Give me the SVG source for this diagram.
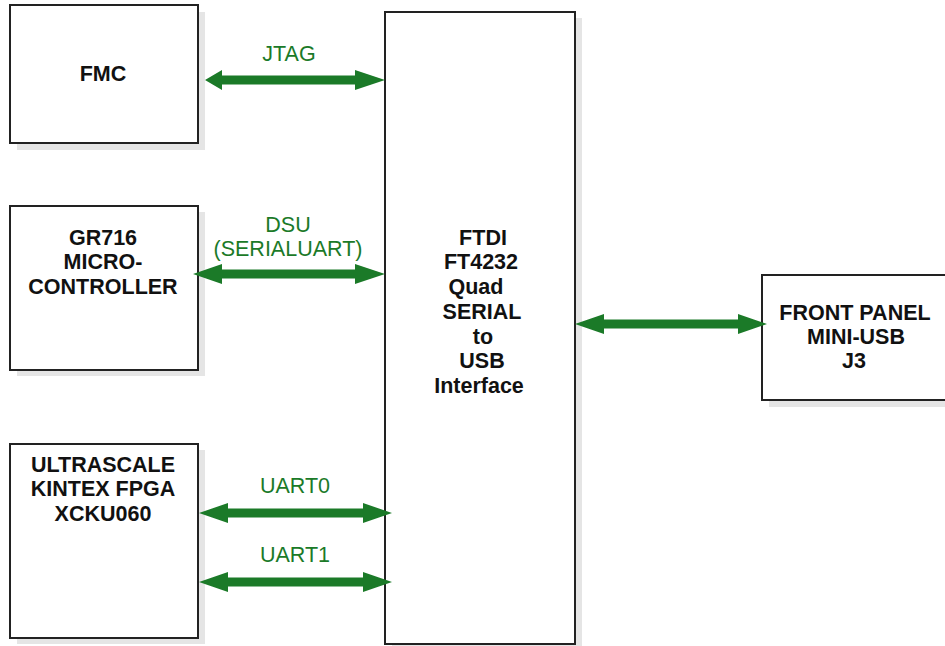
<svg xmlns="http://www.w3.org/2000/svg" width="945" height="646" viewBox="0 0 945 646">
<style>
.shadow{fill:#e5e5e5;stroke:none}
.box{fill:#ffffff;stroke:#222222;stroke-width:2}
.lbl{font-family:"Liberation Sans",Arial,sans-serif;font-weight:bold;font-size:21.5px;fill:#111111;text-anchor:middle}
.glbl{font-family:"Liberation Sans",Arial,sans-serif;font-size:21.5px;fill:#1b7a28;text-anchor:middle}
.arrow{fill:#1b7a28;stroke:none}
</style>
<rect x="0" y="0" width="945" height="646" fill="#ffffff"/>
<g id="fmc">
  <rect class="shadow" x="17" y="12" width="188" height="138"/>
  <rect class="box" x="10" y="5" width="188" height="138"/>
  <text class="lbl" x="103" y="81">FMC</text>
</g>
<g id="gr716">
  <rect class="shadow" x="17" y="212" width="188" height="164"/>
  <rect class="box" x="10" y="206" width="188" height="164"/>
  <text class="lbl" x="103" y="245">GR716</text>
  <text class="lbl" x="103" y="269">MICRO-</text>
  <text class="lbl" x="103" y="294">CONTROLLER</text>
</g>
<g id="kintex">
  <rect class="shadow" x="17" y="450" width="188" height="194"/>
  <rect class="box" x="10" y="444" width="188" height="194"/>
  <text class="lbl" x="103" y="472">ULTRASCALE</text>
  <text class="lbl" x="103" y="496">KINTEX FPGA</text>
  <text class="lbl" x="103" y="521">XCKU060</text>
</g>
<g id="ftdi">
  <rect class="shadow" x="392" y="18" width="190" height="640"/>
  <rect class="box" x="385" y="12" width="190" height="632"/>
  <text class="lbl" x="483" y="245">FTDI</text>
  <text class="lbl" x="481" y="269">FT4232</text>
  <text class="lbl" x="476" y="294">Quad</text>
  <text class="lbl" x="482" y="319">SERIAL</text>
  <text class="lbl" x="483" y="344">to</text>
  <text class="lbl" x="482" y="368">USB</text>
  <text class="lbl" x="479" y="393">Interface</text>
</g>
<g id="frontpanel">
  <rect class="shadow" x="769" y="282" width="190" height="125"/>
  <rect class="box" x="762" y="275" width="190" height="125"/>
  <text class="lbl" x="855" y="320">FRONT PANEL</text>
  <text class="lbl" x="856" y="344">MINI-USB</text>
  <text class="lbl" x="854" y="368">J3</text>
</g>
<g id="connectors">
  <polygon class="arrow" points="205,80 222,70 222,75.5 355,75.5 355,70 385,80 355,90 355,84.5 222,84.5 222,90"/>
  <polygon class="arrow" points="193,274 222,264 222,269.5 355,269.5 355,264 385,274 355,284 355,278.5 222,278.5 222,284"/>
  <polygon class="arrow" points="199,513 228,503 228,508.5 363,508.5 363,503 392,513 363,523 363,517.5 228,517.5 228,523"/>
  <polygon class="arrow" points="199,582 228,572 228,577.5 363,577.5 363,572 392,582 363,592 363,586.5 228,586.5 228,592"/>
  <polygon class="arrow" points="575,324 604,314 604,319.5 738,319.5 738,314 767,324 738,334 738,328.5 604,328.5 604,334"/>
  <text class="glbl" x="289" y="61">JTAG</text>
  <text class="glbl" x="288" y="232">DSU</text>
  <text class="glbl" x="288" y="256">(SERIALUART)</text>
  <text class="glbl" x="295" y="493">UART0</text>
  <text class="glbl" x="295" y="562">UART1</text>
</g>
</svg>
